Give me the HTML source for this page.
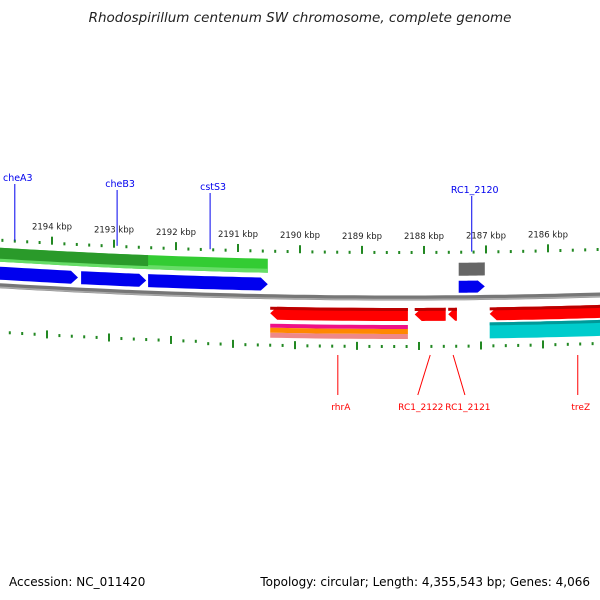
<!DOCTYPE html>
<html><head><meta charset="utf-8"><style>
body{margin:0;background:#fff}
svg{display:block;font-family:"DejaVu Sans","Liberation Sans",sans-serif}
</style></head><body>
<svg id="c" width="600" height="600" viewBox="0 0 600 600">
<text x="300" y="22" text-anchor="middle" font-size="13.5" font-style="italic" fill="#222">Rhodospirillum centenum SW chromosome, complete genome</text>
<text x="9" y="586" font-size="12" fill="#000">Accession: NC_011420</text>
<text x="590" y="586" font-size="12" fill="#000" text-anchor="end">Topology: circular; Length: 4,355,543 bp; Genes: 4,066</text>
</svg>
<script>
const majorTicks=[2194,2193,2192,2191,2190,2189,2188,2187,2186];
const tickRange=[2185,2195];
const blueGenes=[[2194.84,2193.58],[2193.53,2192.48],[2192.45,2190.52]];
const greenBand=[2194.84,2190.52];
const darkGreenBand=[2194.84,2192.45];
const grayGene=[2187.44,2187.02];
const blueSmall=[2187.44,2187.02];
const redGenes=[[2190.48,2188.26],[2188.15,2187.65],[2187.61,2187.47],[2186.94,2185.1]];
const stripeBand=[2190.48,2188.26];
const cyanBand=[2186.94,2185.1];
const topLabels=[["cheA3",2194.6,181],["cheB3",2192.95,187],["cstS3",2191.45,190],["RC1_2120",2187.23,193]];
const botLabels=[["rhrA",2189.39,2189.39],["RC1_2122",2187.9,2188.1],["RC1_2121",2187.53,2187.34],["treZ",2185.52,2185.52]];

const svg=document.getElementById('c');const NS='http://www.w3.org/2000/svg';
const X=k=>300+(2190-k)*62;
const arc=x=>298-(x-400)*(x-400)/13000;
function mk(t,a,name,inter){const e=document.createElementNS(NS,t);for(const k in a)e.setAttribute(k,a[k]);


svg.appendChild(e);return e;}
function band(k1,k2,o1,o2,fill,name,arrow){
 let x1=Math.max(-5,Math.min(X(k1),X(k2))),x2=Math.min(605,Math.max(X(k1),X(k2)));
 const top=[],bot=[];const n=12;
 let a1=x1,a2=x2; if(arrow==='r')a2=x2-7; if(arrow==='l')a1=x1+7;
 for(let i=0;i<=n;i++){const x=a1+(a2-a1)*i/n;top.push([x,arc(x)+o1]);bot.push([x,arc(x)+o2]);}
 let pts=[...top];
 if(arrow==='r')pts.push([x2,arc(x2)+(o1+o2)/2]);
 pts=pts.concat(bot.reverse());
 if(arrow==='l')pts.push([x1,arc(x1)+(o1+o2)/2]);
 return mk('polygon',{points:pts.map(p=>p.map(v=>v.toFixed(1)).join(',')).join(' '),fill},name);
}
(function(){const p=[];for(let x=-5;x<=605;x+=10)p.push(x+','+arc(x).toFixed(1));
mk('polyline',{points:p.join(' '),fill:'none',stroke:'#777',"stroke-width":5},'backbone');
mk('polyline',{points:p.join(' '),fill:'none',stroke:'#aaa',"stroke-width":1.5,transform:'translate(0,1.5)'},'backbone-highlight');})();
band(greenBand[0],greenBand[1],-38,-24,'#33cc33','gc-band');
band(greenBand[0],greenBand[1],-28,-24,'#66dd66','gc-band-light');
band(darkGreenBand[0],darkGreenBand[1],-38,-27,'#2a9a2a','dark-green-band');
blueGenes.forEach((g,i)=>{band(g[0],g[1],-19,-6,'#0000ee','forward-gene-'+i,'r');});
band(grayGene[0],grayGene[1],-35,-22,'#666','gray-gene');
band(blueSmall[0],blueSmall[1],-17,-5,'#0000ee','forward-gene-rc1-2120','r');
redGenes.forEach((g,i)=>{band(g[0],g[1],10,23,'#ff0000','reverse-gene-'+i,'l');band(g[0],g[1],10,13,'#bb0000','reverse-gene-shade-'+i);});
band(stripeBand[0],stripeBand[1],27,31,'#ee1188','pink-stripe');
band(stripeBand[0],stripeBand[1],31,36,'#ff8800','orange-stripe');
band(stripeBand[0],stripeBand[1],36,41,'#ee8888','salmon-stripe');
band(cyanBand[0],cyanBand[1],25,41,'#00cccc','cyan-band');
band(cyanBand[0],cyanBand[1],25,28,'#009999','cyan-band-shade');
for(let k=tickRange[0];k<=tickRange[1]+1e-6;k=Math.round((k+0.2)*10)/10){
 const x=X(k);const maj=Math.abs(k-Math.round(k))<1e-6;const h=maj?8:3;
 const yt=arc(x)-44;
 mk('rect',{x:x-1,y:yt-h,width:2,height:h,fill:'#228822'},'top-tick');
 const xb=x-5,yb=arc(xb)+46+ (xb>200?2:0);
 mk('rect',{x:xb-1,y:yb-(maj?4:1),width:2,height:maj?8:3,fill:'#228822'},'bottom-tick');
}
majorTicks.forEach(k=>{const x=X(k);const t=mk('text',{x:x,y:arc(x)-59,"text-anchor":"middle","font-size":"8.5",fill:'#222'},'tick-label');t.textContent=k+' kbp';});
topLabels.forEach(l=>{const x=X(l[1]);mk('line',{x1:x,y1:l[2]+3,x2:x,y2:arc(x)-46,stroke:'#0000ee'},'label-line');
const t=mk('text',{x:x+3,y:l[2],"text-anchor":"middle","font-size":"9.5",fill:'#0000ee'},'gene-label-'+l[0]);t.textContent=l[0];});
botLabels.forEach(l=>{const x1=X(l[1]),x2=X(l[2]);mk('line',{x1:x1,y1:355,x2:x2,y2:395,stroke:'#ff0000'},'label-line');
const t=mk('text',{x:x2+3,y:410,"text-anchor":"middle","font-size":"9",fill:'#ff0000'},'gene-label-'+l[0]);t.textContent=l[0];});
</script>
</body></html>
